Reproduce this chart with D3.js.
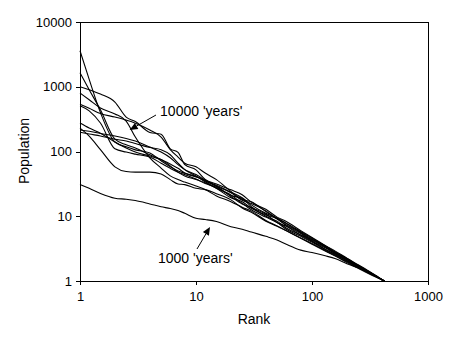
<!DOCTYPE html>
<html><head><meta charset="utf-8">
<script src="https://cdn.jsdelivr.net/npm/d3@7"></script>
<style>
body{margin:0;background:#fff}
svg{display:block}
text{font-family:"Liberation Sans",Arial,sans-serif;fill:#000}
</style>
</head><body>
<svg id="c" width="454" height="342"></svg>
<script>
// ---- data ----
const ranks = [1, 1.2, 1.5, 2, 2.5, 3, 4, 5, 6, 7, 8, 10, 12, 15, 20, 25, 30, 40, 50, 60, 80, 100, 130, 160, 200, 250, 300, 350, 420];

const run1  = [3600, 1300, 400, 140, 118, 106, 95, 72, 58, 50, 46, 41, 35, 29, 23.1, 17.6, 15.7, 12.1, 9.2, 7.8, 5.8, 4.6, 3.46, 2.79, 2.2, 1.75, 1.44, 1.22, 1];
const run2  = [1650, 900, 440, 155, 127, 113, 89, 75, 60, 48, 42, 37, 33, 27, 19.3, 16.8, 13.3, 10.5, 9.1, 7.1, 5.15, 4.37, 3.39, 2.68, 2.16, 1.71, 1.43, 1.21, 1];
const run3  = [1000, 900, 770, 580, 340, 290, 197, 185, 110, 97, 63, 52, 37, 31.5, 25.6, 21.5, 16.5, 12.8, 9.7, 8.3, 6.0, 4.7, 3.55, 2.87, 2.25, 1.78, 1.47, 1.24, 1];
const run4  = [800, 630, 470, 380, 295, 167, 80, 55.5, 42, 36.8, 33.7, 29.3, 25.8, 20.6, 16.8, 13.8, 12.0, 8.6, 7.1, 6.0, 4.57, 3.7, 2.9, 2.42, 1.93, 1.58, 1.33, 1.16, 1];
const run5  = [535, 465, 385, 340, 305, 274, 215, 167, 107, 82, 66, 58, 46.5, 36.8, 24.2, 18.1, 16.8, 11.8, 9.2, 7.35, 5.67, 4.45, 3.49, 2.76, 2.23, 1.73, 1.44, 1.22, 1];
const run6  = [510, 425, 275, 110, 98, 91, 82, 66, 55, 48, 44, 37.5, 32, 28, 21, 18.8, 14, 10, 8.4, 6.6, 5.1, 4.1, 3.1, 2.58, 2.06, 1.66, 1.39, 1.2, 1];
const run7  = [275, 230, 192, 140, 113, 98, 85, 75, 64, 55, 46.5, 40.5, 36, 30, 23.5, 19.3, 15, 11.1, 9.4, 7.7, 5.57, 4.28, 3.36, 2.68, 2.14, 1.7, 1.41, 1.2, 1];
const run8  = [215, 205, 190, 174, 159, 145, 117, 98, 80, 62.7, 52.5, 44, 36, 29, 20.2, 15.5, 13.6, 10.8, 8.0, 7.0, 5.4, 4.16, 3.26, 2.63, 2.12, 1.68, 1.4, 1.2, 1];
const run9  = [198, 186, 174, 155, 145, 133, 115, 106.8, 89, 66, 52.5, 42, 34, 27, 21.4, 15.8, 12.6, 9.7, 8.0, 6.3, 4.9, 4.0, 3.07, 2.52, 2.04, 1.65, 1.39, 1.19, 1];
const run10 = [230, 173, 107, 58, 49, 48, 48, 45, 36.8, 31.5, 30.8, 27, 25.8, 22.3, 17.9, 13.4, 11.5, 8.4, 7.0, 5.95, 4.62, 3.78, 2.97, 2.45, 2.0, 1.61, 1.36, 1.18, 1];
const runs10000 = [run1, run2, run3, run4, run5, run6, run7, run8, run9, run10];

const run1000 = [31, 27, 22.5, 19, 18.3, 17.5, 15.5, 14, 13.2, 12.3, 11.1, 9.3, 8.9, 8.3, 6.9, 6.3, 5.7, 4.9, 4.3, 3.7, 3.0, 2.75, 2.45, 2.2, 1.85, 1.6, 1.38, 1.2, 1];

const xTicks = [1, 10, 100, 1000];
const yTicks = [1, 10, 100, 1000, 10000];
const xTitle = "Rank";
const yTitle = "Population";
const noteLabels = ["10000 'years'", "1000 'years'"];
const noteTextAt = [[4.9, 422], [4.7, 2.26]];
const noteFrom = [[4.52, 366], [10.2, 3.12]];
const noteTo = [[2.68, 215], [13.2, 6.82]];

// ---- chart ----
const svg = d3.select("#c");
const L = 80, R = 428, T = 22, B = 281;
const x = d3.scaleLog().domain([1, 1000]).range([L, R]);
const y = d3.scaleLog().domain([1, 10000]).range([B, T]);

svg.append("rect").attr("width", 454).attr("height", 342).attr("fill", "#fff");

// frame
svg.append("rect").attr("x", L).attr("y", T).attr("width", R - L).attr("height", B - T)
  .attr("fill", "none").attr("stroke", "#000").attr("stroke-width", 1)
  .attr("shape-rendering", "crispEdges");

const line = d3.line().x((d, i) => x(ranks[i])).y(d => y(d)).curve(d3.curveMonotoneX);

const g = svg.append("g");
runs10000.forEach(s => {
  g.append("path").attr("d", line(s)).attr("fill", "none").attr("stroke", "#000").attr("stroke-width", 1.1);
});
g.append("path").attr("d", line(run1000)).attr("fill", "none").attr("stroke", "#000").attr("stroke-width", 1.1);

// axes
const ya = d3.axisLeft(y).tickValues(yTicks).tickFormat(d3.format("d")).tickSize(4).tickSizeOuter(0).tickPadding(4);
const xa = d3.axisBottom(x).tickValues(xTicks).tickFormat(d3.format("d")).tickSize(4).tickSizeOuter(0).tickPadding(7);
const yg = svg.append("g").attr("transform", `translate(${L},0)`).call(ya);
const xg = svg.append("g").attr("transform", `translate(0,${B})`).call(xa);
[yg, xg].forEach(a => {
  a.select(".domain").remove();
  a.selectAll("line").attr("stroke", "#000").attr("shape-rendering", "crispEdges");
  a.selectAll("text").attr("font-size", 13).attr("fill", "#000")
    .attr("font-family", '"Liberation Sans",Arial,sans-serif');
});

svg.append("text").attr("x", 254).attr("y", 324).attr("text-anchor", "middle")
  .attr("font-size", 14).text(xTitle);
svg.append("text").attr("transform", "translate(29,151) rotate(-90)").attr("text-anchor", "middle")
  .attr("font-size", 14).text(yTitle);

// annotations
noteLabels.forEach((lab, i) => {
  const [tx, ty] = [x(noteTextAt[i][0]), y(noteTextAt[i][1])];
  svg.append("text").attr("x", tx).attr("y", ty).attr("dy", "0.35em").attr("font-size", 14).text(lab);
  const x1 = x(noteFrom[i][0]), y1 = y(noteFrom[i][1]);
  const x2 = x(noteTo[i][0]), y2 = y(noteTo[i][1]);
  const a = Math.atan2(y2 - y1, x2 - x1);
  const len = 8, hw = 3.5;
  const bx = x2 - len * Math.cos(a), by = y2 - len * Math.sin(a);
  svg.append("line").attr("x1", x1).attr("y1", y1).attr("x2", bx).attr("y2", by)
    .attr("stroke", "#000").attr("stroke-width", 1);
  svg.append("path").attr("d",
    `M${x2},${y2}L${bx + hw * Math.sin(a)},${by - hw * Math.cos(a)}L${bx - hw * Math.sin(a)},${by + hw * Math.cos(a)}Z`)
    .attr("fill", "#000");
});
</script>
</body></html>
